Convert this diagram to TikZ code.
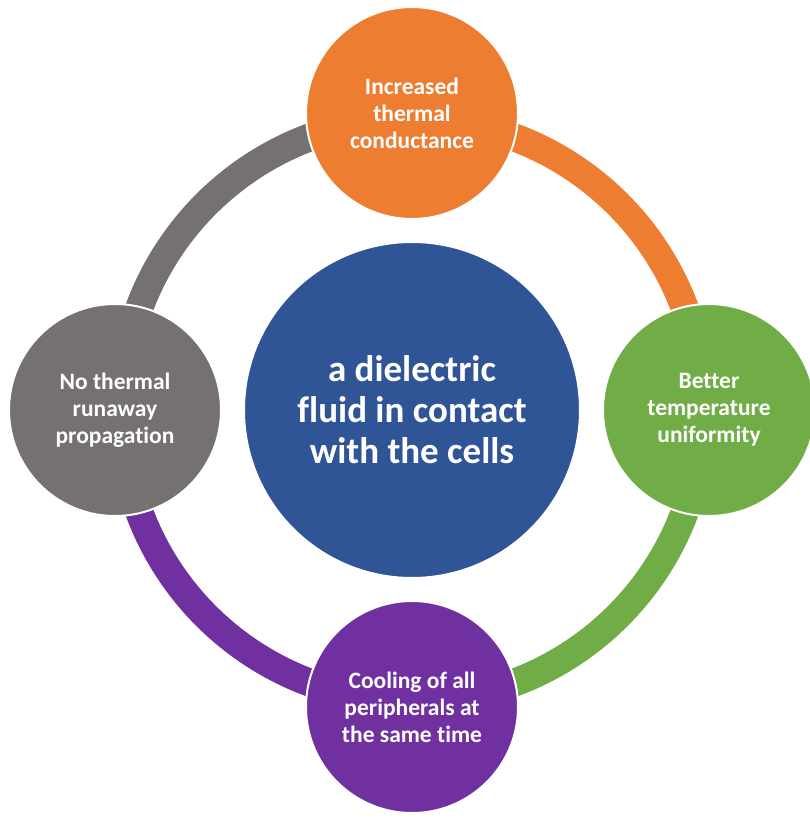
\documentclass[tikz,border=0pt]{standalone}
\usepackage{fontspec}
\setmainfont{Carlito}[Ligatures=NoCommon]
\usepackage{tikz}
\usetikzlibrary{positioning}

\definecolor{hubblue}{HTML}{2F5597}
\definecolor{heatorange}{HTML}{ED7D31}
\definecolor{leafgreen}{HTML}{70AD47}
\definecolor{plumviolet}{HTML}{7030A0}
\definecolor{ashgrey}{HTML}{767171}

\begin{document}
\begin{tikzpicture}[
  x=1pt, y=1pt,
  node distance=23pt,
  hub/.style={circle, draw=white, line width=2pt, outer sep=0pt, fill=hubblue, minimum size=336pt, align=center, text=white, font=\fontsize{37}{41}\selectfont\bfseries},
  benefit/.style={circle, draw=white, line width=2pt, outer sep=0pt, minimum size=212pt, align=center, text=white, font=\fontsize{23.5}{27}\selectfont\bfseries},
  link/.style={line width=28pt}
]

  \useasboundingbox (-412,-409) rectangle (397,410);

  % ring behind the circles
  \foreach \a/\n in {90/n, 0/e, -90/s, 180/w}
    \coordinate (ring-\n) at (\a:291);

  \draw[link, heatorange] (ring-n) to[bend left=45] (ring-e);
  \draw[link, leafgreen] (ring-e) to[bend left=45] (ring-s);
  \draw[link, plumviolet] (ring-s) to[bend left=45] (ring-w);
  \draw[link, ashgrey] (ring-w) to[bend left=45] (ring-n);

  \node[hub] (fluid) at (0,0) {a dielectric\\fluid in contact\\with the cells};

  \node[benefit, above=of fluid, fill=heatorange] (conduct) {Increased\\thermal\\conductance};
  \node[benefit, right=of fluid, fill=leafgreen] (uniform) {Better\\temperature\\uniformity};
  \node[benefit, below=of fluid, fill=plumviolet] (cooling) {Cooling of all\\peripherals at\\the same time};
  \node[benefit, left=of fluid, fill=ashgrey] (runaway) {No thermal\\runaway\\propagation};

\end{tikzpicture}
\end{document}
